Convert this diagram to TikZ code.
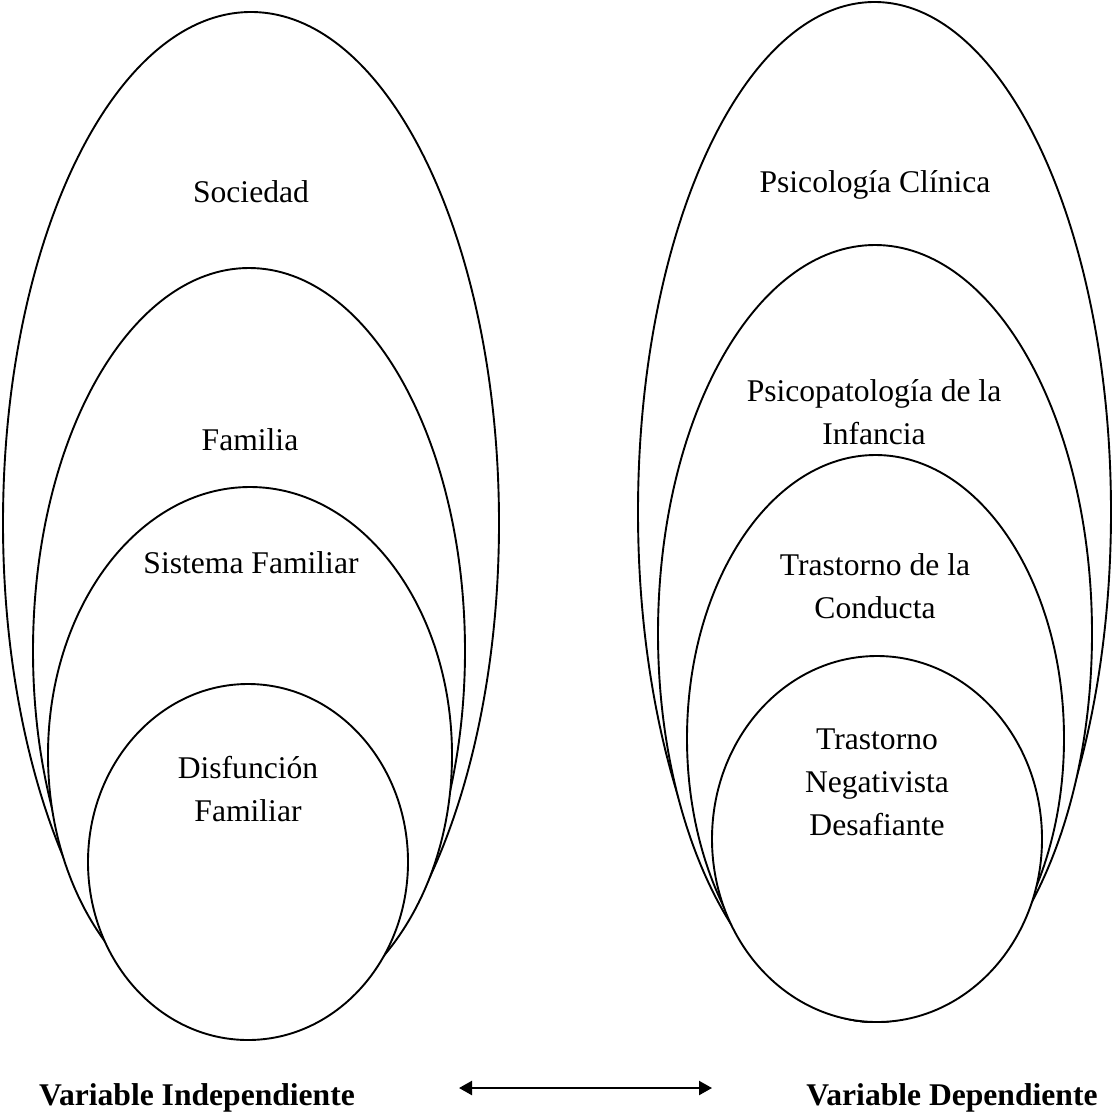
\documentclass[tikz,border=0pt]{standalone}
\usepackage{fontspec}
\setmainfont{Liberation Serif}
\usepackage{tikz}
\usetikzlibrary{shapes.geometric,arrows.meta}

\begin{document}
\begin{tikzpicture}[x=1pt,y=-1pt]
        \tikzstyle{ring} = [ellipse,draw,fill=white,line width=1.9pt,inner sep=0pt]
        \tikzstyle{lbl} = [font=\fontsize{31.6}{43}\selectfont,align=center,inner sep=0pt,anchor=base]
        \useasboundingbox (0,0) rectangle (1114,1114);
        % variable independiente
        \node[ring,minimum width=496pt,minimum height=1022pt] (soc) at (251,523) {};
        \node[ring,minimum width=432pt,minimum height=766pt] (fam) at (249,651) {};
        \node[ring,minimum width=404pt,minimum height=536pt] (sis) at (250,755) {};
        \node[ring,minimum width=320pt,minimum height=356pt] (dis) at (248,862) {};
        % variable dependiente
        \node[ring,minimum width=473pt,minimum height=1020pt] (psc) at (874.5,512) {};
        \node[ring,minimum width=434pt,minimum height=777pt] (pin) at (875,633.5) {};
        \node[ring,minimum width=377pt,minimum height=567pt] (tdc) at (875.5,738.5) {};
        \node[ring,minimum width=330pt,minimum height=366pt] (tnd) at (877,839) {};
        % textos
        \node[lbl] (tsoc) at (251,202) {Sociedad};
        \node[lbl] (tfam) at (250,450) {Familia};
        \node[lbl] (tsis) at (251,573) {Sistema Familiar};
        \node[lbl] (tdis) at (248,821) {Disfunción\\Familiar};
        \node[lbl] (tpsc) at (875,192) {Psicología Clínica};
        \node[lbl] (tpin) at (874,444) {Psicopatología de la\\Infancia};
        \node[lbl] (ttdc) at (875,618) {Trastorno de la\\Conducta};
        \node[lbl] (ttnd) at (877,835) {Trastorno\\Negativista\\Desafiante};
        % pie
        \node[lbl,font=\fontsize{31.6}{43}\selectfont\bfseries] (vi) at (197,1105) {Variable Independiente};
        \node[lbl,font=\fontsize{31.6}{43}\selectfont\bfseries] (vd) at (952,1105) {Variable Dependiente};
        \coordinate (al) at (459,1088);
        \coordinate (ar) at (712,1088);
        \draw[line width=2.2pt,{Triangle[length=13pt,width=14pt]}-{Triangle[length=13pt,width=14pt]}] (al) -- (ar);
      \end{tikzpicture}
\end{document}
